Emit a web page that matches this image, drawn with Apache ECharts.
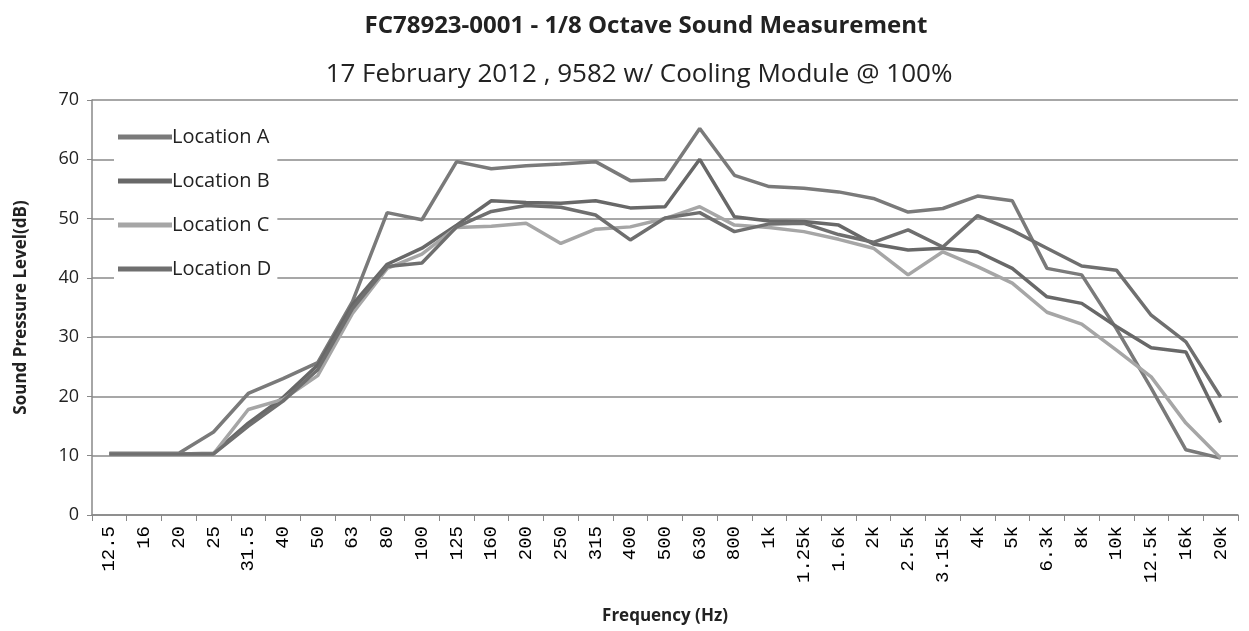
<!DOCTYPE html>
<html>
<head>
<meta charset="utf-8">
<script src="https://cdn.jsdelivr.net/npm/echarts@6/dist/echarts.min.js"></script>
<style>
html,body{margin:0;padding:0;background:#fff;}
#chart{width:1249px;height:631px;}
</style>
</head>
<body>
<div id="chart"></div>
<script>
const categories = ['12.5','16','20','25','31.5','40','50','63','80','100','125','160','200','250','315','400','500','630','800','1k','1.25k','1.6k','2k','2.5k','3.15k','4k','5k','6.3k','8k','10k','12.5k','16k','20k'];
const locationA = [10.4,10.4,10.4,14,20.5,23,25.7,36,51,49.8,59.6,58.4,58.9,59.2,59.6,56.4,56.6,65.2,57.3,55.4,55.1,54.5,53.4,51.1,51.7,53.8,53,41.6,40.5,31.4,21.4,11,9.6];
const locationB = [10.3,10.3,10.3,10.4,15.5,19.8,25.3,35.5,42.3,45,48.9,53,52.7,52.6,53,51.8,52,60,50.3,49.6,49.5,48.9,45.7,44.7,45,44.4,41.6,36.8,35.7,31.8,28.2,27.5,15.6];
const locationC = [10.3,10.3,10.3,10.3,17.8,19.5,23.5,34,41.6,44,48.5,48.7,49.2,45.8,48.2,48.6,50,52,48.9,48.5,47.8,46.5,45,40.5,44.4,41.9,39.1,34.2,32.2,27.8,23.3,15.5,9.6];
const locationD = [10.3,10.3,10.3,10.3,15,19.2,24.5,34.8,41.9,42.5,48.6,51.2,52.2,51.9,50.6,46.4,50.1,51,47.8,49.1,49.2,47.3,46,48.1,45.2,50.5,48,45,42,41.3,33.7,29.2,19.9];
const seriesNames = ['Location A','Location B','Location C','Location D'];
const seriesColors = ['#7a7a7a','#686868','#a6a6a6','#6f6f6f'];
const yTicks = {min:0, max:70, interval:10};

const chart = echarts.init(document.getElementById('chart'), null, {renderer:'canvas'});
const dataSets = [locationA, locationB, locationC, locationD];
const option = {
  backgroundColor:'#fff',
  animation:false,
  title:[
    {text:'FC78923-0001 - 1/8 Octave Sound Measurement', left:641, top:9, textAlign:'center',
     textStyle:{fontFamily:'Open Sans', fontWeight:'bold', fontSize:24, color:'#222'}},
    {text:'17 February 2012 , 9582 w/ Cooling Module @ 100%', left:634, top:57, textAlign:'center',
     textStyle:{fontFamily:'Open Sans', fontWeight:'normal', fontSize:26, color:'#222'}}
  ],
  grid:{left:92, right:11, top:100, bottom:116, containLabel:false},
  legend:{
    orient:'vertical', left:114, top:123, itemGap:24, itemWidth:54, itemHeight:5,
    icon:'rect', backgroundColor:'#fff', padding:[4,6,4,4],
    textStyle:{fontFamily:'Open Sans', fontSize:20, color:'#222', padding:[0,0,0,-5]},
    data:seriesNames
  },
  xAxis:{
    type:'category', data:categories, boundaryGap:true,
    name:'Frequency (Hz)', nameLocation:'middle', nameGap:93,
    nameTextStyle:{fontFamily:'Open Sans', fontWeight:'bold', fontSize:17, color:'#222'},
    axisLine:{lineStyle:{color:'#888', width:1.5}},
    axisTick:{show:true, alignWithLabel:false, length:6, lineStyle:{color:'#888'}},
    axisLabel:{rotate:90, interval:0, margin:11, fontFamily:'Liberation Mono', fontSize:19, color:'#000'},
    splitLine:{show:false}
  },
  yAxis:{
    type:'value', min:yTicks.min, max:yTicks.max, interval:yTicks.interval,
    name:'Sound Pressure Level(dB)', nameLocation:'middle', nameGap:62, nameRotate:90,
    nameTextStyle:{fontFamily:'Open Sans', fontWeight:'bold', fontSize:17, color:'#222'},
    axisLine:{show:true, lineStyle:{color:'#888', width:1.5}},
    axisTick:{show:true, length:5, lineStyle:{color:'#888'}},
    axisLabel:{fontFamily:'Open Sans', fontSize:18, color:'#222', margin:13},
    splitLine:{lineStyle:{color:'#8a8a8a', width:1.5}}
  },
  series: dataSets.map((d,i)=>({
    name:seriesNames[i], type:'line', data:d, showSymbol:false, symbol:'none',
    lineStyle:{width:3.5, color:seriesColors[i]}, itemStyle:{color:seriesColors[i]},
    z:2+i
  }))
};
chart.setOption(option);
</script>
</body>
</html>
